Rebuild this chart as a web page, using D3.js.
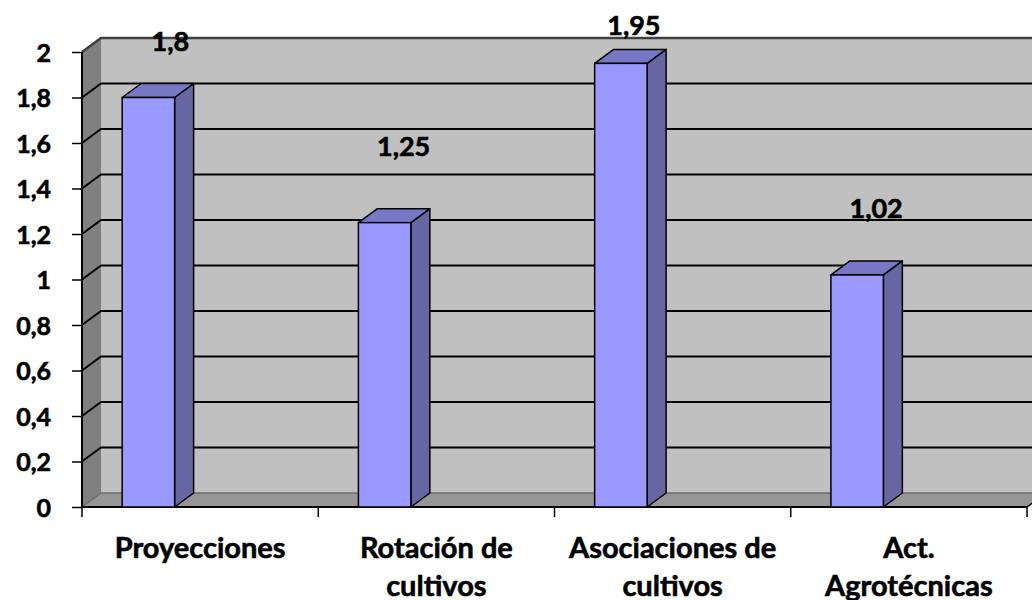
<!DOCTYPE html>
<html>
<head>
<meta charset="utf-8">
<script src="https://cdn.jsdelivr.net/npm/d3@7"></script>
<style>
  html, body { margin: 0; padding: 0; background: #fff; }
  svg { display: block; }
  text { font-family: Lato, "Open Sans", sans-serif; font-weight: 700; fill: #000; stroke: #000; stroke-width: 0.6px; }
</style>
</head>
<body>
<svg id="chart" width="1032" height="600"></svg>
<script>
// Chart data
const categories = ["Proyecciones", "Rotación de cultivos", "Asociaciones de cultivos", "Act. Agrotécnicas"];
const categoryLines = [["Proyecciones"], ["Rotación de", "cultivos"], ["Asociaciones de", "cultivos"], ["Act.", "Agrotécnicas"]];
const values = [1.8, 1.25, 1.95, 1.02];
const tickValues = [0, 0.2, 0.4, 0.6, 0.8, 1, 1.2, 1.4, 1.6, 1.8, 2];

// Value-label placement (pixels relative to each bar's front top)
const labelDx = [22, 19, 13, 19];
const labelLift = [47, 67, 28, 57];

const svg = d3.select("#chart");
const fmt = v => String(v).replace(".", ",");

// Plot frame and 3D depth offset
const plotLeft = 82, plotRight = 1027, plotBase = 507, plotTop = 52;
const depth = { dx: 19, dy: -14 };

const x = d3.scaleBand().domain(categories).range([plotLeft, plotRight]).paddingInner(0).paddingOuter(0);
const y = d3.scaleLinear().domain([0, 2]).range([plotBase, plotTop]);

const pts = a => a.map(p => p.join(",")).join(" ");

// Back wall
svg.append("rect")
  .attr("x", plotLeft + depth.dx).attr("y", y(2) + depth.dy)
  .attr("width", 1100).attr("height", y(0) - y(2))
  .attr("fill", "#c0c0c0");

// Side wall
svg.append("polygon")
  .attr("points", pts([[plotLeft, y(2)], [plotLeft + depth.dx, y(2) + depth.dy], [plotLeft + depth.dx, y(0) + depth.dy], [plotLeft, y(0)]]))
  .attr("fill", "#808080");

// Floor
svg.append("polygon")
  .attr("points", pts([[plotLeft, plotBase], [plotLeft + depth.dx, plotBase + depth.dy], [plotRight + depth.dx, plotBase + depth.dy], [plotRight, plotBase]]))
  .attr("fill", "#969696");

// Gridlines across side wall and back wall
svg.append("g").selectAll("polyline")
  .data(tickValues.filter(v => v > 0))
  .join("polyline")
  .attr("points", v => pts([[plotLeft, y(v)], [plotLeft + depth.dx, y(v) + depth.dy], [1100, y(v) + depth.dy]]))
  .attr("fill", "none")
  .attr("stroke", v => v === 2 ? "#404040" : "#000")
  .attr("stroke-width", v => v === 2 ? 2.5 : 2);

// Floor back edge
svg.append("line")
  .attr("x1", plotLeft + depth.dx).attr("x2", plotRight + depth.dx)
  .attr("y1", plotBase + depth.dy).attr("y2", plotBase + depth.dy)
  .attr("stroke", "#6e6e6e").attr("stroke-width", 1.5);
svg.append("line")
  .attr("x1", plotLeft).attr("x2", plotLeft + depth.dx)
  .attr("y1", plotBase).attr("y2", plotBase + depth.dy)
  .attr("stroke", "#6e6e6e").attr("stroke-width", 1.5);

// Front axis lines
svg.append("line").attr("x1", plotLeft).attr("x2", plotLeft).attr("y1", y(2)).attr("y2", plotBase)
  .attr("stroke", "#000").attr("stroke-width", 2);
svg.append("line").attr("x1", plotLeft).attr("x2", plotRight).attr("y1", plotBase).attr("y2", plotBase)
  .attr("stroke", "#000").attr("stroke-width", 2);
svg.append("line").attr("x1", plotRight).attr("x2", plotRight + depth.dx).attr("y1", plotBase).attr("y2", plotBase + depth.dy)
  .attr("stroke", "#000").attr("stroke-width", 1.5);

// Y axis ticks and labels
const yAxis = svg.append("g")
  .attr("transform", `translate(${plotLeft},0)`)
  .call(d3.axisLeft(y).tickValues(tickValues).tickSize(10).tickFormat(fmt));
yAxis.select(".domain").remove();
yAxis.selectAll(".tick line").attr("stroke", "#000").attr("stroke-width", 1.5);
yAxis.selectAll(".tick text")
  .attr("x", -31).attr("dy", "0.36em")
  .attr("fill", "#000")
  .style("font-family", "Lato, 'Open Sans', sans-serif")
  .style("font-weight", "700")
  .style("font-size", "25px");

// X axis ticks at category boundaries
const bounds = categories.map(c => x(c)).concat([plotRight]);
svg.append("g").selectAll("line")
  .data(bounds)
  .join("line")
  .attr("x1", d => d).attr("x2", d => d)
  .attr("y1", plotBase).attr("y2", plotBase + 10)
  .attr("stroke", "#000").attr("stroke-width", 1.5);

// Bars
const barOff = x.bandwidth() * 0.17, barW = x.bandwidth() * 0.222;
const bars = svg.append("g").selectAll("g")
  .data(values.map((v, i) => ({ v, c: categories[i], i })))
  .join("g");

bars.append("polygon") // right side
  .attr("points", d => {
    const x1 = x(d.c) + barOff + barW;
    return pts([[x1, y(d.v)], [x1 + depth.dx, y(d.v) + depth.dy], [x1 + depth.dx, plotBase + depth.dy], [x1, plotBase]]);
  })
  .attr("fill", "#6666a3").attr("stroke", "#000").attr("stroke-width", 1.5).attr("stroke-linejoin", "round");

bars.append("polygon") // top
  .attr("points", d => {
    const x0 = x(d.c) + barOff, x1 = x0 + barW;
    return pts([[x0, y(d.v)], [x0 + depth.dx, y(d.v) + depth.dy], [x1 + depth.dx, y(d.v) + depth.dy], [x1, y(d.v)]]);
  })
  .attr("fill", "#7777c6").attr("stroke", "#000").attr("stroke-width", 1.5).attr("stroke-linejoin", "round");

bars.append("rect") // front face
  .attr("x", d => x(d.c) + barOff)
  .attr("y", d => y(d.v))
  .attr("width", barW)
  .attr("height", d => plotBase - y(d.v))
  .attr("fill", "#9999ff").attr("stroke", "#000").attr("stroke-width", 1.5);

// Value labels
svg.append("g").selectAll("text")
  .data(values)
  .join("text")
  .attr("x", (v, i) => x(categories[i]) + barOff + barW / 2 + labelDx[i])
  .attr("y", (v, i) => y(v) - labelLift[i])
  .attr("text-anchor", "middle")
  .style("font-size", "27px")
  .text(fmt);

// Category labels
const cat = svg.append("g").selectAll("text")
  .data(categoryLines)
  .join("text")
  .attr("x", (d, i) => x(categories[i]) + x.bandwidth() / 2)
  .attr("y", 558)
  .attr("text-anchor", "middle")
  .style("font-size", "29px");
cat.selectAll("tspan")
  .data((d, i) => d.map(s => ({ s, i })))
  .join("tspan")
  .attr("x", d => x(categories[d.i]) + x.bandwidth() / 2)
  .attr("dy", (d, j) => j === 0 ? 0 : 38)
  .text(d => d.s);
</script>
</body>
</html>
